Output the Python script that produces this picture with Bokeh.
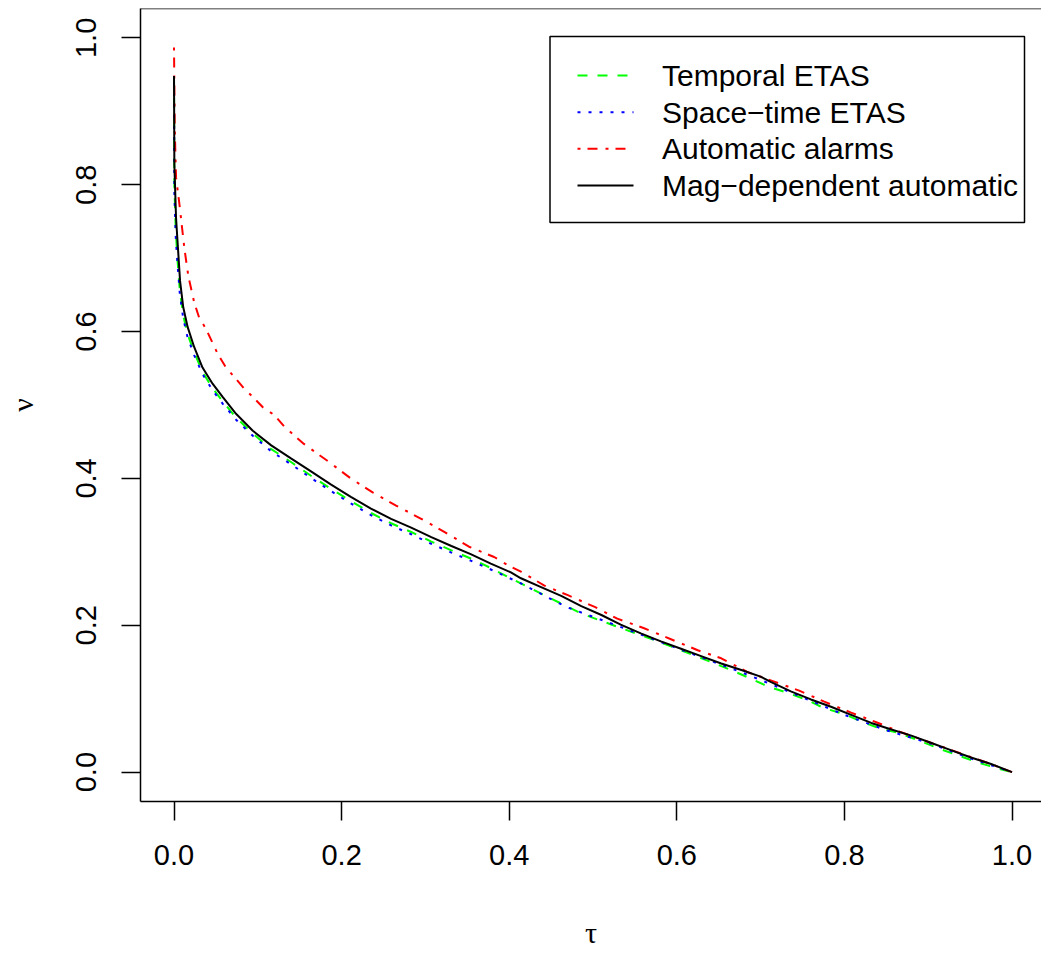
from bokeh.plotting import figure
from bokeh.models import Range1d, FixedTicker, PrintfTickFormatter, Span
from bokeh.core.properties import value
from bokeh.embed import file_html
from bokeh.resources import INLINE

# ---- data: alarm fraction (tau) vs. miss rate (nu) ----
temporal_x = [0, 0.0004, 0.002, 0.004, 0.007, 0.011, 0.016, 0.024, 0.034, 0.046, 0.058,
              0.074, 0.094, 0.116, 0.140, 0.163, 0.187, 0.211, 0.235, 0.259, 0.283, 0.307,
              0.331, 0.354, 0.378, 0.398, 0.442, 0.486, 0.529, 0.573, 0.621, 0.665, 0.689,
              0.708, 0.732, 0.754, 0.776, 0.800, 0.822, 0.844, 0.866, 0.889, 0.913, 0.935,
              0.960, 0.983, 1.0]
temporal_y = [0.945, 0.800, 0.740, 0.700, 0.655, 0.622, 0.597, 0.572, 0.545, 0.523, 0.505,
              0.483, 0.461, 0.440, 0.422, 0.404, 0.386, 0.369, 0.353, 0.339, 0.327, 0.314,
              0.302, 0.291, 0.278, 0.266, 0.241, 0.216, 0.198, 0.180, 0.159, 0.139, 0.127,
              0.117, 0.108, 0.099, 0.087, 0.079, 0.068, 0.059, 0.053, 0.043, 0.032, 0.023,
              0.013, 0.005, 0.0]

spacetime_x = [0, 0.0004, 0.002, 0.004, 0.007, 0.011, 0.016, 0.024, 0.034, 0.046, 0.058,
               0.074, 0.094, 0.116, 0.140, 0.163, 0.187, 0.211, 0.235, 0.259, 0.283, 0.307,
               0.331, 0.354, 0.378, 0.414, 0.468, 0.537, 0.607, 0.677, 0.712, 0.760, 0.800,
               0.850, 0.900, 0.950, 1.0]
spacetime_y = [0.940, 0.790, 0.730, 0.695, 0.650, 0.618, 0.593, 0.568, 0.542, 0.520, 0.502,
               0.480, 0.458, 0.437, 0.419, 0.401, 0.383, 0.366, 0.350, 0.336, 0.324, 0.311,
               0.299, 0.288, 0.276, 0.257, 0.225, 0.196, 0.166, 0.136, 0.120, 0.097, 0.078,
               0.057, 0.040, 0.019, 0.0]

auto_x = [0, 0.0008, 0.0024, 0.0064, 0.0123, 0.017, 0.024, 0.030, 0.038, 0.052, 0.062,
          0.072, 0.084, 0.094, 0.106, 0.120, 0.132, 0.155, 0.183, 0.211, 0.237, 0.265,
          0.295, 0.323, 0.352, 0.382, 0.398, 0.414, 0.442, 0.470, 0.502, 0.529, 0.561,
          0.593, 0.625, 0.653, 0.685, 0.712, 0.746, 0.776, 0.808, 0.838, 0.866, 0.903,
          0.940, 0.975, 1.0]
auto_y = [0.987, 0.880, 0.810, 0.774, 0.714, 0.676, 0.640, 0.619, 0.604, 0.570, 0.551,
          0.538, 0.522, 0.511, 0.497, 0.486, 0.470, 0.447, 0.424, 0.400, 0.381, 0.363,
          0.345, 0.327, 0.307, 0.293, 0.282, 0.273, 0.254, 0.241, 0.225, 0.209, 0.196,
          0.181, 0.166, 0.155, 0.136, 0.125, 0.111, 0.096, 0.081, 0.068, 0.055, 0.040,
          0.025, 0.011, 0.0]

magdep_x = [0, 0.0004, 0.0024, 0.0044, 0.0072, 0.011, 0.0163, 0.024, 0.034, 0.046, 0.058,
            0.074, 0.094, 0.116, 0.140, 0.163, 0.187, 0.211, 0.235, 0.259, 0.283, 0.307,
            0.331, 0.354, 0.378, 0.402, 0.414, 0.438, 0.462, 0.486, 0.510, 0.533, 0.557,
            0.581, 0.605, 0.629, 0.653, 0.677, 0.700, 0.712, 0.736, 0.760, 0.784, 0.808,
            0.832, 0.856, 0.879, 0.903, 0.927, 0.951, 0.975, 1.0]
magdep_y = [0.948, 0.828, 0.755, 0.719, 0.669, 0.633, 0.606, 0.579, 0.551, 0.529, 0.511,
            0.488, 0.465, 0.445, 0.427, 0.410, 0.392, 0.375, 0.359, 0.345, 0.333, 0.320,
            0.308, 0.297, 0.284, 0.272, 0.264, 0.252, 0.240, 0.226, 0.214, 0.201, 0.189,
            0.178, 0.168, 0.158, 0.148, 0.139, 0.130, 0.123, 0.110, 0.099, 0.089, 0.078,
            0.067, 0.058, 0.050, 0.040, 0.030, 0.020, 0.011, 0.0]

series_labels = ["Temporal ETAS", "Space\u2212time ETAS", "Automatic alarms",
                 "Mag\u2212dependent automatic"]
series_colors = ["#00FF00", "#0000FF", "#FF0000", "#000000"]
series_dashes = ["10 10", "3 8", "3 7 10 8", "solid"]
tick_values = [0.0, 0.2, 0.4, 0.6, 0.8, 1.0]

# ---- layout geometry ----
W, H = 1041, 954
FL, FT, FW, FH = 140, 8, 901, 793           # frame left/top/width/height in px
X0 = -0.04
X1 = X0 + FW / 838.0                        # 838 px per unit of tau
Y0, Y1 = -0.04, 1.04

def data_x(px):
    return X0 + (px - FL) * (X1 - X0) / FW

def data_y(py):
    return Y1 - (py - FT) * (Y1 - Y0) / FH

FONT = "Liberation Sans"
FS = "29px"

p = figure(width=W, height=H, output_backend="svg", toolbar_location=None,
           x_range=Range1d(X0, X1), y_range=Range1d(Y0, Y1),
           min_border_left=FL, min_border_right=0, min_border_top=FT,
           min_border_bottom=H - FT - FH)
p.grid.visible = False
p.outline_line_color = None
p.background_fill_color = "white"
p.border_fill_color = "white"

for ax in (p.xaxis[0], p.yaxis[0]):
    ax.ticker = FixedTicker(ticks=tick_values)
    ax.formatter = PrintfTickFormatter(format="%.1f")
    ax.major_tick_out = 19
    ax.major_tick_in = 0
    ax.minor_tick_line_color = None
    ax.major_tick_line_width = 1.5
    ax.axis_line_width = 1.5
    ax.major_label_text_font = FONT
    ax.major_label_text_font_size = FS
    ax.major_label_text_color = "black"
    ax.axis_label_text_font = "Liberation Serif"
    ax.axis_label_text_font_style = "normal"
    ax.axis_label_text_font_size = "30px"
    ax.axis_label_text_color = "black"

p.xaxis[0].major_label_standoff = 24
p.xaxis[0].axis_label = "\u03c4"
p.xaxis[0].axis_label_standoff = 48

p.yaxis[0].major_label_standoff = 25
p.yaxis[0].major_label_orientation = "vertical"
p.yaxis[0].axis_label = "\u03bd"
p.yaxis[0].axis_label_standoff = 35

# top edge of the box
p.add_layout(Span(location=Y1, dimension="width", line_color="black", line_width=1.5))

# curves
xs = [temporal_x, spacetime_x, auto_x, magdep_x]
ys = [temporal_y, spacetime_y, auto_y, magdep_y]
for x, y, c, d in zip(xs, ys, series_colors, series_dashes):
    p.line(x, y, line_color=c, line_dash=d, line_width=2)

# legend box
p.quad(left=[data_x(549.5)], right=[data_x(1024)], top=[data_y(36)], bottom=[data_y(222)],
       fill_color="white", line_color="black", line_width=1.5)
row_y = [75, 111.7, 148.3, 185]
for py, lab, c, d in zip(row_y, series_labels, series_colors, series_dashes):
    p.line([data_x(577), data_x(633)], [data_y(py), data_y(py)],
           line_color=c, line_dash=d, line_width=2)
    p.text(x=[data_x(661.5)], y=[data_y(py)], text=[lab], text_font=value(FONT),
           text_font_size="30px", text_baseline="middle", text_align="left",
           text_color="black")

open("out.html", "w").write(file_html(p, INLINE))
